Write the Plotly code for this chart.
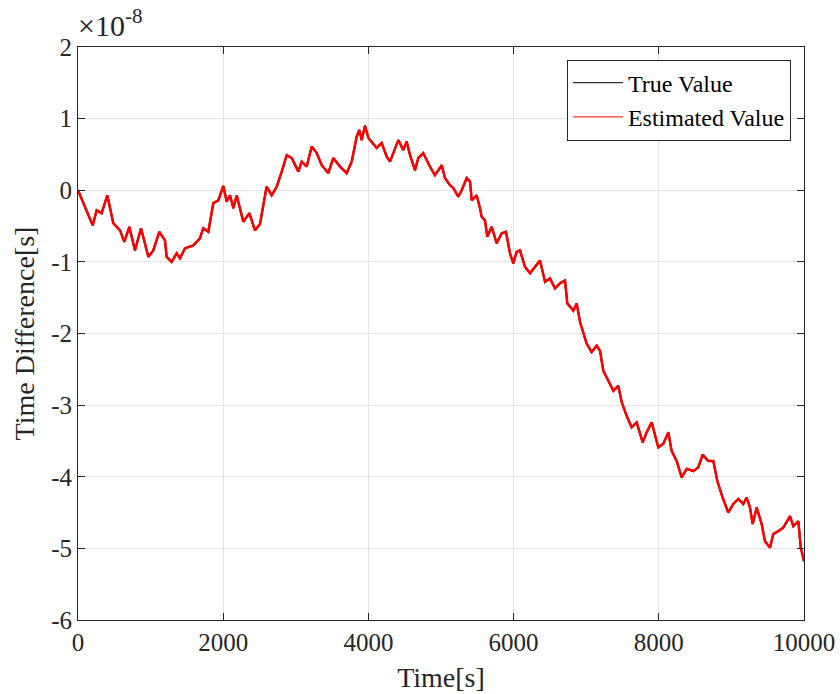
import plotly.graph_objects as go

# time [s]
t = [0, 73, 202, 257, 326, 404, 486, 579, 638, 707, 785, 868, 969, 1037, 1120, 1198, 1221, 1290,
     1359, 1405, 1474, 1588, 1680, 1726, 1795, 1864, 1933, 2002, 2048, 2094, 2140, 2186, 2277, 2360,
     2438, 2507, 2553, 2598, 2668, 2737, 2806, 2875, 2944, 3035, 3081, 3150, 3219, 3288, 3357, 3448,
     3517, 3609, 3701, 3770, 3839, 3875, 3908, 3953, 4000, 4045, 4114, 4183, 4252, 4298, 4412, 4481,
     4527, 4573, 4642, 4688, 4756, 4848, 4917, 5010, 5055, 5124, 5170, 5238, 5285, 5354, 5400, 5423,
     5491, 5537, 5560, 5606, 5638, 5698, 5767, 5836, 5895, 5950, 5996, 6042, 6088, 6157, 6226, 6295,
     6364, 6433, 6501, 6570, 6639, 6708, 6740, 6823, 6869, 6915, 7006, 7075, 7144, 7190, 7236, 7305,
     7374, 7442, 7489, 7557, 7626, 7695, 7778, 7833, 7902, 7993, 8062, 8131, 8177, 8246, 8315, 8384,
     8475, 8544, 8604, 8682, 8751, 8806, 8879, 8957, 9026, 9095, 9164, 9210, 9256, 9293, 9348, 9417,
     9463, 9532, 9577, 9646, 9715, 9807, 9853, 9922, 9955, 10000]

# time difference in units of 1e-8 s
true_e8 = [0.00, -0.18, -0.49, -0.28, -0.32, -0.07, -0.46, -0.56, -0.72, -0.51, -0.84, -0.53, -0.93, -0.84,
           -0.58, -0.70, -0.93, -1.00, -0.88, -0.95, -0.81, -0.77, -0.67, -0.53, -0.58, -0.18, -0.14, 0.06,
           -0.16, -0.07, -0.25, -0.07, -0.44, -0.32,
           -0.56, -0.47, -0.18, 0.05, -0.07, 0.05, 0.26, 0.49, 0.45, 0.26, 0.40, 0.33, 0.61, 0.52, 0.35, 0.24,
           0.45, 0.33, 0.24, 0.40, 0.75, 0.84, 0.70, 0.90, 0.73, 0.68, 0.59, 0.66, 0.47, 0.40, 0.70, 0.56,
           0.68, 0.49, 0.28, 0.45, 0.52, 0.33, 0.21, 0.35, 0.17, 0.07, 0.03, -0.09, 0.00, 0.17, 0.12, -0.14,
           -0.07, -0.25, -0.37, -0.42, -0.65, -0.51, -0.74, -0.60, -0.58, -0.88, -1.02, -0.86, -0.84, -1.07,
           -1.16, -1.07, -0.98, -1.28, -1.23, -1.37, -1.30, -1.26, -1.58, -1.68, -1.58, -1.84, -2.14, -2.26,
           -2.17, -2.24, -2.52, -2.66, -2.80, -2.73, -2.96, -3.15, -3.31, -3.24, -3.52, -3.38, -3.24, -3.59,
           -3.54, -3.38, -3.64, -3.78, -4.01, -3.89, -3.92, -3.87, -3.69, -3.78, -3.78, -4.06, -4.29, -4.50,
           -4.38, -4.31, -4.38, -4.29, -4.43, -4.66, -4.43, -4.66, -4.90, -4.99, -4.80, -4.76, -4.71, -4.55,
           -4.69, -4.62, -4.99, -5.18]
est_e8 = list(true_e8)

yticks = [-6, -5, -4, -3, -2, -1, 0, 1, 2]
xticks = [0, 2000, 4000, 6000, 8000, 10000]

FONT = "Liberation Serif"
AX = "#262626"

true_y = [v * 1e-8 for v in true_e8]
est_y = [v * 1e-8 for v in est_e8]

fig = go.Figure()
# data lines (thick to mimic the dense noisy trace)
fig.add_trace(go.Scatter(x=t, y=true_y, mode="lines", name="True Value", showlegend=False,
                         line=dict(color="black", width=2)))
fig.add_trace(go.Scatter(x=t, y=est_y, mode="lines", name="Estimated Value", showlegend=False,
                         line=dict(color="#ff0000", width=2.5)))
# legend samples (thin lines)
fig.add_trace(go.Scatter(x=[None], y=[None], mode="lines", name="True Value",
                         line=dict(color="black", width=1)))
fig.add_trace(go.Scatter(x=[None], y=[None], mode="lines", name="Estimated Value",
                         line=dict(color="#ff0000", width=1)))

axis_common = dict(showline=True, linecolor=AX, linewidth=1, mirror="allticks",
                   ticks="inside", ticklen=7, tickcolor=AX, tickwidth=1, automargin=False,
                   showgrid=True, gridcolor="#e3e3e3", gridwidth=1, zeroline=False,
                   tickfont=dict(family=FONT, size=25, color=AX))

fig.update_xaxes(range=[0, 10000], tickvals=xticks, ticktext=[str(v) for v in xticks],
                 title=dict(text="Time[s]", font=dict(family=FONT, size=28, color=AX), standoff=12),
                 **axis_common)
fig.update_yaxes(range=[-6e-8, 2e-8], tickvals=[v * 1e-8 for v in yticks],
                 ticktext=[str(v) for v in yticks],
                 title=dict(text="Time Difference[s]", font=dict(family=FONT, size=28, color=AX), standoff=8),
                 **axis_common)

fig.add_annotation(xref="paper", yref="paper", x=0, y=1, xanchor="left", yanchor="bottom",
                   yshift=3, xshift=-2, showarrow=False,
                   text="×10<sup>-8</sup>", font=dict(family=FONT, size=30, color=AX))

fig.update_layout(width=840, height=694, margin=dict(l=78, r=36, t=47, b=74),
                  plot_bgcolor="white", paper_bgcolor="white",
                  font=dict(family=FONT, color=AX),
                  legend=dict(x=0.982, y=0.978, xanchor="right", yanchor="top",
                              bgcolor="white", bordercolor=AX, borderwidth=1,
                              font=dict(family=FONT, size=24, color="black"),
                              tracegroupgap=0, itemwidth=50))

fig.write_html("out.html")
